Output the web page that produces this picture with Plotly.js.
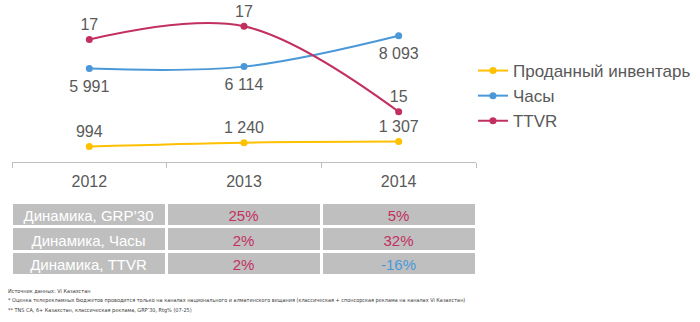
<!DOCTYPE html>
<html><head><meta charset="utf-8">
<script src="https://cdn.plot.ly/plotly-3.0.1.min.js"></script>
<style>html,body{margin:0;padding:0;background:#fff;}#chart{width:700px;height:322px;}</style>
</head><body><div id="chart"></div>
<script>
// Data
const years = ['2012', '2013', '2014'];
const soldInventory = [994, 1240, 1307];
const hours = [5991, 6114, 8093];
const ttvr = [17.02, 17.45, 14.65];
const seriesNames = ['Проданный инвентарь', 'Часы', 'TTVR'];

const rowLabels = ['Динамика, GRP’30', 'Динамика, Часы', 'Динамика, TTVR'];
const dyn2013 = ['25%', '2%', '2%'];
const dyn2014 = ['5%', '32%', '-16%'];

const footnotes = [
  'Источник данных: Vi Казахстан',
  '* Оценка телерекламных бюджетов проводится только на каналах национального и алматинского вещания (классическая + спонсорская реклама на каналах Vi Казахстан)',
  '** TNS CA, 6+ Казахстан, классическая реклама, GRP’30, Rtg% (07-25)'
];

const cYellow = '#FFC000', cBlue = '#4A98D8', cRed = '#C2305F';
const txt = '#595959';
const FONT = 'Liberation Sans, Arial, sans-serif';

function fmt(v){ return String(v).replace(/\B(?=(\d{3})+(?!\d))/g, ' '); }

const tableFontColors = [['#FFFFFF','#FFFFFF','#FFFFFF'], [cRed, cRed, cRed], [cRed, cRed, cBlue]];
const cols = [rowLabels, dyn2013, dyn2014];

const traces = [
  {x: years, y: soldInventory, name: seriesNames[0], type: 'scatter', mode: 'lines+markers+text',
   line: {color: cYellow, width: 2, shape: 'spline'}, marker: {color: cYellow, size: 7},
   text: soldInventory.map(fmt), textposition: 'top center', textfont: {size: 16, color: txt}, cliponaxis: false},
  {x: years, y: hours, name: seriesNames[1], type: 'scatter', mode: 'lines+markers',
   line: {color: cBlue, width: 2, shape: 'spline'}, marker: {color: cBlue, size: 7}, cliponaxis: false},
  {x: years, y: ttvr, name: seriesNames[2], type: 'scatter', mode: 'lines+markers+text', yaxis: 'y2',
   line: {color: cRed, width: 2, shape: 'spline'}, marker: {color: cRed, size: 7},
   text: ttvr.map(v => v.toFixed(0)), textposition: 'top center', textfont: {size: 16, color: txt}, cliponaxis: false},
  // labels for Часы, placed a little further below the points
  {x: years, y: hours, type: 'scatter', mode: 'markers+text', showlegend: false, hoverinfo: 'skip',
   marker: {size: 17, color: 'rgba(0,0,0,0)'},
   text: hours.map(fmt), textposition: 'bottom center', textfont: {size: 16, color: txt}, cliponaxis: false},
  {type: 'table', domain: {x: [0, 1], y: [0.0, 0.3797]},
   columnwidth: [1, 1, 1],
   header: {values: cols.map(c => [c[0]]), height: 24.6, align: 'center',
     fill: {color: '#BFBFBF'}, line: {color: '#FFFFFF', width: 3},
     font: {family: FONT, size: 15, color: tableFontColors.map(c => c[0])}},
   cells: {values: cols.map(c => c.slice(1)), height: 24.6, align: 'center',
     fill: {color: '#BFBFBF'}, line: {color: '#FFFFFF', width: 3},
     font: {family: FONT, size: 15, color: tableFontColors.map(c => c.slice(1))}}}
];

const annotations = footnotes.map((t, i) => ({
  text: t, xref: 'paper', yref: 'paper', x: -0.011, xanchor: 'left',
  y: (322 - (291 + i * 9.7)) / 316, yanchor: 'middle', showarrow: false,
  font: {family: 'Liberation Sans Narrow, DejaVu Sans Condensed, sans-serif', size: 5.5, color: '#404040'}
}));

const layout = {
  width: 700, height: 322,
  margin: {l: 11, r: 224, t: 6, b: 0},
  paper_bgcolor: '#fff', plot_bgcolor: '#fff',
  font: {family: FONT, color: txt},
  showlegend: true,
  legend: {x: 0.9935, xanchor: 'left', y: (322 - 53) / 316, yanchor: 'top',
    font: {size: 17, color: txt}, itemwidth: 30, tracegroupgap: 0, bgcolor: 'rgba(0,0,0,0)'},
  xaxis: {type: 'category', domain: [1/465, 1], range: [-0.5, 2.5], anchor: 'y',
    showline: true, linecolor: '#BFBFBF', linewidth: 1, showgrid: false, zeroline: false,
    ticks: 'outside', tickson: 'boundaries', ticklen: 5, tickcolor: '#BFBFBF',
    ticklabelstandoff: 5, tickfont: {size: 16, color: txt}, fixedrange: true},
  yaxis: {domain: [(322 - 162) / 316, 1], range: [0, 10000], visible: false, fixedrange: true},
  yaxis2: {overlaying: 'y', range: [13.0, 18.115], visible: false, fixedrange: true},
  annotations: annotations
};

Plotly.newPlot('chart', traces, layout, {staticPlot: true, displayModeBar: false});
</script></body></html>
